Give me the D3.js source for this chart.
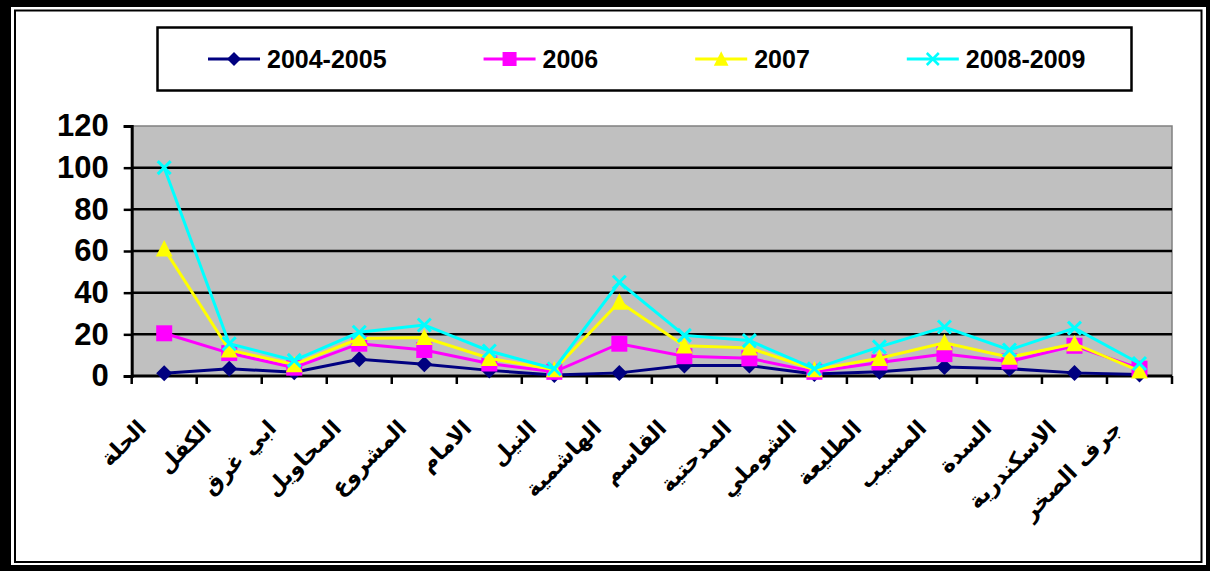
<!DOCTYPE html>
<html>
<head>
<meta charset="utf-8">
<script src="https://cdn.jsdelivr.net/npm/d3@7"></script>
<style>
  body { margin: 0; background: #fff; }
  svg { display: block; }
</style>
</head>
<body>
<div id="chart"></div>
<script>

var categories = ["الحلة", "الكفل", "ابي غرق", "المحاويل", "المشروع", "الامام", "النيل", "الهاشمية",
  "القاسم", "المدحتية", "الشوملي", "الطليعة", "المسيب", "السدة", "الاسكندرية", "جرف الصخر"];

var seriesNames = ["2004-2005", "2006", "2007", "2008-2009"];

var values2004 = [1.3, 3.5, 1.8, 8, 5.6, 2.7, 0.5, 1.5, 5, 5, 1, 2, 4.3, 3.5, 1.5, 0.7];
var values2006 = [20.5, 11, 4, 15.5, 12.5, 6, 2, 15.5, 9.5, 8.5, 2, 6.5, 10.5, 7, 14.5, 3.5];
var values2007 = [61, 12.5, 5.5, 18, 18.5, 8.5, 3, 35.5, 14.5, 13.5, 3, 8.5, 16, 9, 15.5, 2.5];
var values2008 = [100, 15.5, 7.5, 21, 24.5, 12, 3.5, 45, 19.5, 17, 3.5, 14, 23.5, 12.5, 23, 6];

var yTicks = [0, 20, 40, 60, 80, 100, 120];

var colors = ["#000080", "#FF00FF", "#FFFF00", "#00FFFF"];
var markers = ["diamond", "square", "triangle", "cross"];

var allValues = [values2004, values2006, values2007, values2008];

var width = 1210, height = 571;
var plotLeft = 131.7, plotRight = 1172, plotTop = 126, plotBottom = 376;

var svg = d3.select("#chart").append("svg")
  .attr("width", width)
  .attr("height", height);

// frame
svg.append("rect").attr("x", 0).attr("y", 0).attr("width", width).attr("height", height).attr("fill", "#000");
svg.append("rect").attr("x", 11).attr("y", 7).attr("width", 1195).attr("height", 558).attr("fill", "#fff");
svg.append("rect").attr("x", 15).attr("y", 10.5).attr("width", 1186.5).attr("height", 551.5)
  .attr("fill", "none").attr("stroke", "#000").attr("stroke-width", 2);

var xScale = d3.scaleBand()
  .domain(categories)
  .range([plotLeft, plotRight]);

var yScale = d3.scaleLinear()
  .domain([0, 120])
  .range([plotBottom, plotTop]);

// plot background
svg.append("rect")
  .attr("x", plotLeft).attr("y", plotTop)
  .attr("width", plotRight - plotLeft).attr("height", plotBottom - plotTop)
  .attr("fill", "#C0C0C0")
  .attr("stroke", "#808080")
  .attr("stroke-width", 1.5);

// gridlines
svg.append("g")
  .selectAll("line")
  .data(yTicks.filter(function(t) { return t > 0 && t < 120; }))
  .enter()
  .append("line")
  .attr("x1", plotLeft).attr("x2", plotRight)
  .attr("y1", function(d) { return yScale(d); })
  .attr("y2", function(d) { return yScale(d); })
  .attr("stroke", "#000")
  .attr("stroke-width", 2.5);

// y axis
var yaxis = svg.append("g")
  .attr("transform", "translate(" + plotLeft + ",0)")
  .call(d3.axisLeft(yScale).tickValues(yTicks).tickSize(8).tickPadding(15));
yaxis.select(".domain").attr("stroke", "#000").attr("stroke-width", 3);
yaxis.selectAll(".tick line").attr("stroke-width", 2.5);
yaxis.selectAll("text")
  .attr("font-family", "Liberation Sans, Arial, sans-serif")
  .attr("font-weight", "bold")
  .attr("font-size", 31)
  .attr("fill", "#000");

// x axis line and ticks between categories
var boundaries = categories.map(function(c) { return xScale(c); }).concat([xScale.range()[1]]);
svg.append("line")
  .attr("x1", plotLeft).attr("x2", plotRight)
  .attr("y1", plotBottom).attr("y2", plotBottom)
  .attr("stroke", "#000").attr("stroke-width", 3);
svg.append("g")
  .selectAll("line")
  .data(boundaries)
  .enter()
  .append("line")
  .attr("x1", function(d) { return d; })
  .attr("x2", function(d) { return d; })
  .attr("y1", plotBottom).attr("y2", plotBottom + 8)
  .attr("stroke", "#000").attr("stroke-width", 2.5);

// category labels, rotated 45 degrees
var labelGroups = svg.append("g")
  .selectAll("g")
  .data(categories)
  .enter()
  .append("g")
  .attr("transform", function(d) {
    var cx = xScale(d) + xScale.bandwidth() / 2;
    return "translate(" + (cx - 22) + ",424) rotate(-45)";
  });

labelGroups.append("text")
  .attr("x", 0)
  .attr("y", 0)
  .attr("text-anchor", "end")
  .attr("dy", "0.35em")
  .style("font-family", "'DejaVu Sans', sans-serif")
  .style("font-weight", "bold")
  .style("font-size", "22px")
  .attr("fill", "#000")
  .text(function(d) { return d; });

function markerPath(type, s) {
  if (type == "diamond") {
    return "M0," + (-s) + "L" + s + ",0L0," + s + "L" + (-s) + ",0Z";
  }
  if (type == "square") {
    return "M" + (-s) + "," + (-s) + "H" + s + "V" + s + "H" + (-s) + "Z";
  }
  if (type == "triangle") {
    return "M0," + (-s * 1.1) + "L" + s * 1.05 + "," + s * 0.95 + "L" + (-s * 1.05) + "," + s * 0.95 + "Z";
  }
  return "M" + (-s) + "," + (-s) + "L" + s + "," + s + "M" + s + "," + (-s) + "L" + (-s) + "," + s;
}

var line = d3.line()
  .x(function(d, i) { return xScale(categories[i]) + xScale.bandwidth() / 2; })
  .y(function(d) { return yScale(d); });

allValues.forEach(function(vals, k) {
  svg.append("path")
    .datum(vals)
    .attr("d", line)
    .attr("fill", "none")
    .attr("stroke", colors[k])
    .attr("stroke-width", 3);

  svg.append("g")
    .selectAll("path")
    .data(vals)
    .enter()
    .append("path")
    .attr("transform", function(d, i) {
      return "translate(" + (xScale(categories[i]) + xScale.bandwidth() / 2) + "," + yScale(d) + ")";
    })
    .attr("d", markerPath(markers[k], markers[k] == "cross" ? 6.5 : 8))
    .attr("fill", markers[k] == "cross" ? "none" : colors[k])
    .attr("stroke", colors[k])
    .attr("stroke-width", markers[k] == "cross" ? 3 : 0);
});

// legend
svg.append("rect")
  .attr("x", 157.5).attr("y", 27.5)
  .attr("width", 974).attr("height", 63)
  .attr("fill", "#fff")
  .attr("stroke", "#000")
  .attr("stroke-width", 2.5);

var lx = 208;
seriesNames.forEach(function(name, k) {
  var g = svg.append("g").attr("transform", "translate(" + lx + ",59)");
  g.append("line").attr("x1", 0).attr("x2", 52).attr("y1", 0).attr("y2", 0)
    .attr("stroke", colors[k]).attr("stroke-width", 3);
  g.append("path")
    .attr("transform", "translate(26,0)")
    .attr("d", markerPath(markers[k], markers[k] == "cross" ? 6 : 7))
    .attr("fill", markers[k] == "cross" ? "none" : colors[k])
    .attr("stroke", colors[k])
    .attr("stroke-width", markers[k] == "cross" ? 2.5 : 0);
  var t = g.append("text")
    .attr("x", 59).attr("dy", "0.35em")
    .attr("font-family", "Liberation Sans, Arial, sans-serif")
    .attr("font-weight", "bold")
    .attr("font-size", 25)
    .attr("fill", "#000")
    .text(name);
  lx = lx + 59 + t.node().getComputedTextLength() + 97;
});

</script>
</body>
</html>
